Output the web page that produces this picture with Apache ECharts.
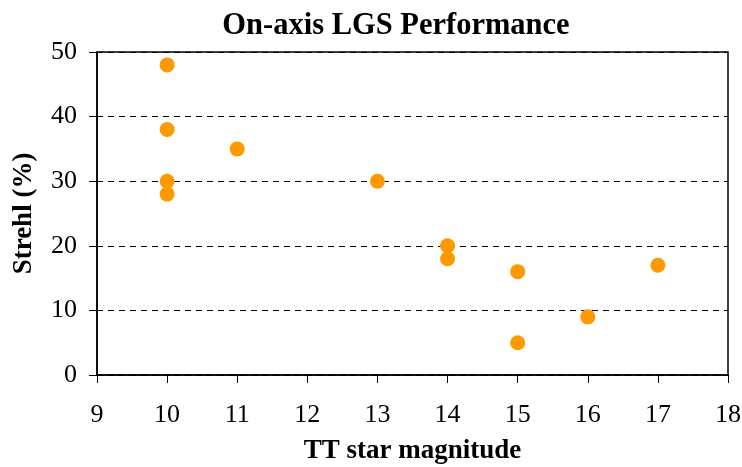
<!DOCTYPE html>
<html><head><meta charset="utf-8">
<script src="https://cdn.jsdelivr.net/npm/echarts@6/dist/echarts.min.js"></script>
<style>html,body{margin:0;padding:0;background:#fff}#c{width:742px;height:467px}</style>
</head><body><div id="c"></div>
<script>
const magnitudes = [10, 10, 10, 10, 11, 13, 14, 14, 15, 15, 16, 17];
const strehl = [48, 38, 30, 28, 35, 30, 20, 18, 16, 5, 9, 17];
const titleText = 'On-axis LGS Performance';
const xName = 'TT star magnitude';
const yName = 'Strehl (%)';

const font = '"Liberation Serif", "Times New Roman", serif';
const chart = echarts.init(document.getElementById('c'));
chart.setOption({
  animation: false,
  backgroundColor: '#fff',
  title: {
    text: titleText, left: 391, top: 6, textAlign: 'center',
    textStyle: { fontFamily: font, fontWeight: 'bold', fontSize: 30.5, color: '#000' }
  },
  grid: { left: 97, right: 14, top: 52, bottom: 92, show: true, borderColor: '#000', borderWidth: 1.5, outerBoundsMode: 'none', containLabel: false },
  xAxis: {
    type: 'value', min: 9, max: 18, interval: 1,
    name: xName, nameLocation: 'middle', nameGap: 63,
    nameTextStyle: { fontFamily: font, fontWeight: 'bold', fontSize: 27, color: '#000' },
    axisLine: { show: true, onZero: false, lineStyle: { color: '#000', width: 1.5 } },
    axisTick: { show: true, inside: false, length: 8, lineStyle: { color: '#000' } },
    axisLabel: { margin: 27, fontFamily: font, fontSize: 26, color: '#000' },
    splitLine: { show: false }
  },
  yAxis: {
    type: 'value', min: 0, max: 50, interval: 10,
    name: yName, nameLocation: 'middle', nameGap: 59, nameRotate: 90,
    nameTextStyle: { fontFamily: font, fontWeight: 'bold', fontSize: 27, color: '#000' },
    axisLine: { show: true, lineStyle: { color: '#000', width: 1.5 } },
    axisTick: { show: true, inside: false, length: 8, lineStyle: { color: '#000' } },
    axisLabel: { margin: 20, fontFamily: font, fontSize: 26, color: '#000' },
    splitLine: { show: true, lineStyle: { color: '#000', type: [6, 5], width: 1 } }
  },
  series: [{
    type: 'scatter',
    data: magnitudes.map((m, i) => [m, strehl[i]]),
    symbol: 'circle', symbolSize: 15,
    itemStyle: { color: '#FF9900', opacity: 1 }
  }]
});
</script></body></html>
